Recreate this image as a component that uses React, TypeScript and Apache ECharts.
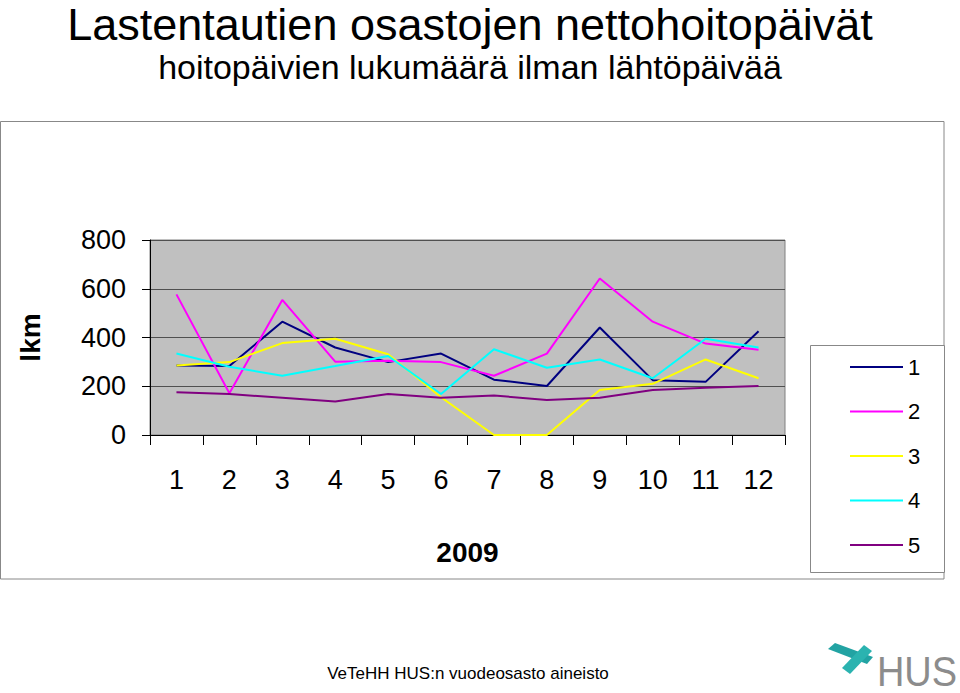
import React, { useEffect, useRef } from "react";
import * as echarts from "echarts";

const months = ["1", "2", "3", "4", "5", "6", "7", "8", "9", "10", "11", "12"];
const seriesNames = ["1", "2", "3", "4", "5"];
const s1 = [285, 283, 465, 359, 299, 334, 227, 201, 441, 225, 218, 426];
const s2 = [577, 171, 554, 301, 305, 299, 243, 334, 642, 465, 375, 350];
const s3 = [285, 299, 377, 395, 331, 155, 0, 0, 185, 210, 310, 233];
const s4 = [334, 280, 243, 283, 324, 168, 352, 276, 310, 233, 395, 359];
const s5 = [175, 168, 153, 137, 168, 153, 162, 144, 153, 185, 194, 201];
const seriesColors = ["#000080", "#ff00ff", "#ffff00", "#00ffff", "#800080"];
const yTicks = { min: 0, max: 800, interval: 200 };

const FONT = "'Liberation Sans', Arial, Helvetica, sans-serif";

export default function App() {
  const ref = useRef<HTMLDivElement>(null);
  useEffect(() => {
    if (!ref.current) return;
    const chart = echarts.init(ref.current, null, { renderer: "svg" });
    const data = [s1, s2, s3, s4, s5];
    chart.setOption({
      animation: false,
      backgroundColor: "#ffffff",
      textStyle: { fontFamily: FONT },
      grid: {
        left: 150,
        top: 240,
        right: 175,
        bottom: 258,
        show: true,
        backgroundColor: "#c0c0c0",
        borderColor: "#808080",
        borderWidth: 1,
      },
      legend: {
        orient: "vertical",
        left: 845,
        top: 351,
        itemWidth: 53,
        itemHeight: 2,
        itemGap: 22.5,
        icon: "rect",
        textStyle: { fontSize: 22, color: "#000", fontFamily: FONT, lineHeight: 22 },
        data: seriesNames,
      },
      xAxis: {
        type: "category",
        data: months,
        boundaryGap: true,
        name: "2009",
        nameLocation: "middle",
        nameGap: 103,
        nameTextStyle: { fontSize: 28, fontWeight: "bold", color: "#000", fontFamily: FONT },
        axisLine: { show: true, lineStyle: { color: "#000", width: 1 } },
        axisTick: { show: true, interval: 0, length: 10, lineStyle: { color: "#000" } },
        axisLabel: { interval: 0, fontSize: 27, color: "#000", margin: 31, fontFamily: FONT },
        splitLine: { show: false },
      },
      yAxis: {
        type: "value",
        min: yTicks.min,
        max: yTicks.max,
        interval: yTicks.interval,
        name: "lkm",
        nameLocation: "middle",
        nameGap: 106,
        nameRotate: 90,
        nameTextStyle: { fontSize: 28, fontWeight: "bold", color: "#000", fontFamily: FONT },
        axisLine: { show: true, lineStyle: { color: "#000", width: 1 } },
        axisTick: { show: true, length: 8, lineStyle: { color: "#000" } },
        axisLabel: { fontSize: 27, color: "#000", margin: 24, fontFamily: FONT },
        splitLine: { show: true, lineStyle: { color: "#505050", width: 1 } },
      },
      series: seriesNames.map((n, i) => ({
        name: n,
        type: "line",
        data: data[i],
        symbol: "none",
        lineStyle: { color: seriesColors[i], width: 2 },
        itemStyle: { color: seriesColors[i] },
      })),
      graphic: [
        {
          type: "rect",
          shape: { x: 0.5, y: 121.5, width: 943.5, height: 457.5 },
          style: { fill: "none", stroke: "#888", lineWidth: 1 },
          z: -10,
        },
        {
          type: "rect",
          shape: { x: 810.5, y: 345.5, width: 134, height: 227 },
          style: { fill: "#fff", stroke: "#888", lineWidth: 1 },
          z: -5,
        },
        {
          type: "text",
          x: 470,
          y: 2,
          style: {
            text: "Lastentautien osastojen nettohoitopäivät",
            font: `45px ${FONT}`,
            fill: "#000",
            align: "center",
            verticalAlign: "top",
          },
        },
        {
          type: "text",
          x: 470,
          y: 67,
          style: {
            text: "hoitopäivien lukumäärä ilman lähtöpäivää",
            font: `34px ${FONT}`,
            fill: "#000",
            align: "center",
            verticalAlign: "middle",
          },
        },
        {
          type: "text",
          x: 468,
          y: 673,
          style: {
            text: "VeTeHH HUS:n vuodeosasto aineisto",
            font: `17px ${FONT}`,
            fill: "#000",
            align: "center",
            verticalAlign: "middle",
          },
        },
        {
          type: "polygon",
          shape: { points: [[828, 649], [835, 643], [873, 657], [867, 664]] },
          style: { fill: "#22a3a3" },
        },
        {
          type: "polygon",
          shape: { points: [[842, 668], [850, 674], [872, 651], [864, 645]] },
          style: { fill: "#2bb3b0" },
        },
        {
          type: "text",
          x: 917,
          y: 671,
          scaleY: 1.1,
          originX: 0,
          originY: 0,
          style: {
            text: "HUS",
            font: `38px ${FONT}`,
            fill: "#8c8c8c",
            align: "center",
            verticalAlign: "middle",
          },
        },
      ],
    });
    return () => chart.dispose();
  }, []);
  return (
    <div
      ref={ref}
      style={{ position: "fixed", left: 0, top: 0, width: 960, height: 693 }}
    />
  );
}
